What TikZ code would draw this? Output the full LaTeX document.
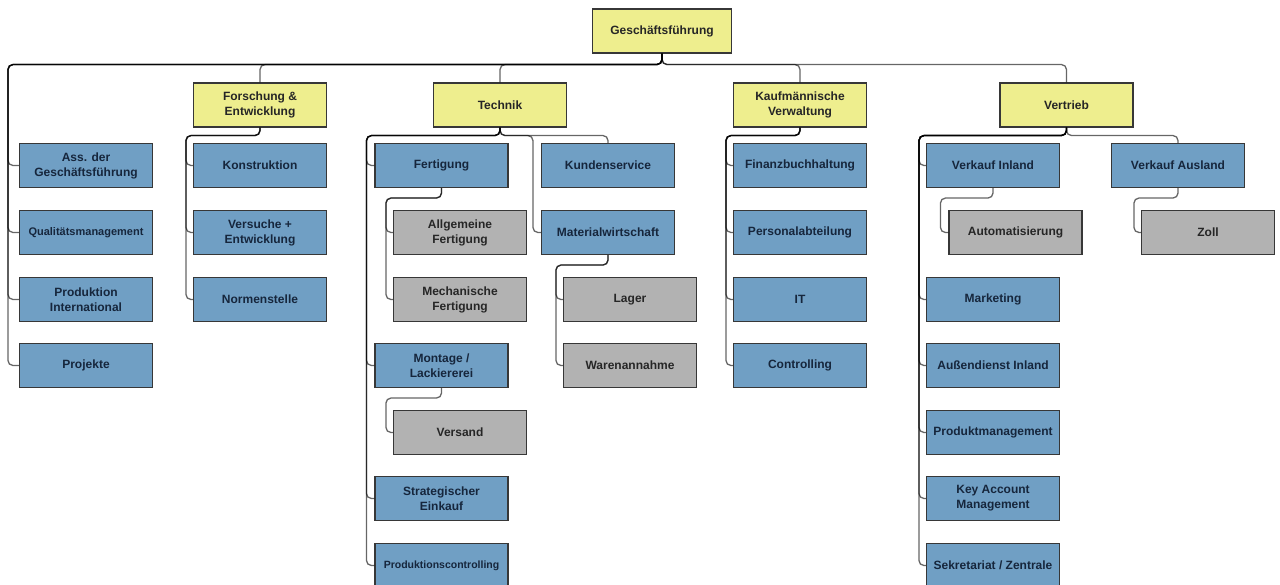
\documentclass[tikz,border=0pt]{standalone}
\usepackage{fontspec}
\setmainfont{Liberation Sans}
\usepackage{xcolor}
\usepackage{tikz}
\definecolor{headfill}{RGB}{238,238,142}
\definecolor{deptfill}{RGB}{112,159,196}
\definecolor{subfill}{RGB}{178,178,178}
\definecolor{boxline}{RGB}{55,55,55}
\definecolor{navytext}{RGB}{22,38,60}

\begin{document}
\begin{tikzpicture}[
  x=1pt, y=-1pt,
  box/.style={draw=boxline, line width=1.1pt, minimum width=133pt, minimum height=44pt, inner sep=2pt, align=center, font=\bfseries\fontsize{12}{15}\selectfont},
  head/.style={box, fill=headfill, text=black!85},
  dept/.style={box, fill=deptfill, text=navytext},
  sub/.style={box, fill=subfill, text=black!85},
  link/.style={draw=black, draw opacity=0.6, line width=1.3pt, rounded corners=5pt}
]
  \useasboundingbox (0,0) rectangle (1280,585);

  % Column x positions
  \def\staffX{86}
  \def\feX{260}
  \def\techX{500}
  \def\fertX{441.5}
  \def\kundX{608}
  \def\fsubX{460}
  \def\msubX{630}
  \def\kvX{800}
  \def\vtX{1066.5}
  \def\viX{993}
  \def\vaX{1178}
  \def\autoX{1015.5}
  \def\zollX{1208}

  % Row y positions
  \def\rA{165.5}
  \def\rB{232.5}
  \def\rC{299.5}
  \def\rD{365.5}
  \def\rE{432.5}
  \def\rF{498.5}
  \def\rG{565.5}

  % Management and divisions
  \node[head, minimum width=139pt] (gf) at (662, 31) {Geschäftsführung};
  \node[head] (fe)   at (\feX, 105)   {Forschung \&\\Entwicklung};
  \node[head] (tech) at (\techX, 105) {Technik};
  \node[head] (kv)   at (\kvX, 105)   {Kaufmännische\\Verwaltung};
  \node[head] (vt)   at (\vtX, 105)   {Vertrieb};

  % Staff positions
  \node[dept] (ass)  at (\staffX, \rA) {Ass. der\\Geschäftsführung};
  \node[dept, font=\bfseries\fontsize{11}{14}\selectfont] (qm) at (\staffX, \rB) {Qualitätsmanagement};
  \node[dept] (pint) at (\staffX, \rC) {Produktion\\International};
  \node[dept] (proj) at (\staffX, \rD) {Projekte};

  % Forschung & Entwicklung
  \node[dept] (kon)  at (\feX, \rA) {Konstruktion};
  \node[dept] (vers) at (\feX, \rB) {Versuche +\\Entwicklung};
  \node[dept] (norm) at (\feX, \rC) {Normenstelle};

  % Technik
  \node[dept] (fert)  at (\fertX, \rA) {Fertigung};
  \node[dept] (kund)  at (\kundX, \rA) {Kundenservice};
  \node[sub]  (allg)  at (\fsubX, \rB) {Allgemeine\\Fertigung};
  \node[dept] (mat)   at (\kundX, \rB) {Materialwirtschaft};
  \node[sub]  (mech)  at (\fsubX, \rC) {Mechanische\\Fertigung};
  \node[sub]  (lager) at (\msubX, \rC) {Lager};
  \node[dept] (mont)  at (\fertX, \rD) {Montage /\\Lackiererei};
  \node[sub]  (waren) at (\msubX, \rD) {Warenannahme};
  \node[sub]  (vsd)   at (\fsubX, \rE) {Versand};
  \node[dept] (strat) at (\fertX, \rF) {Strategischer\\Einkauf};
  \node[dept, font=\bfseries\fontsize{10.5}{13}\selectfont] (pc) at (\fertX, \rG) {Produktionscontrolling};

  % Kaufmaennische Verwaltung
  \node[dept] (fibu)  at (\kvX, \rA) {Finanzbuchhaltung};
  \node[dept] (pers)  at (\kvX, \rB) {Personalabteilung};
  \node[dept] (it)    at (\kvX, \rC) {IT};
  \node[dept] (contr) at (\kvX, \rD) {Controlling};

  % Vertrieb
  \node[dept] (vi)   at (\viX, \rA)   {Verkauf Inland};
  \node[dept] (va)   at (\vaX, \rA)   {Verkauf Ausland};
  \node[sub]  (auto) at (\autoX, \rB) {Automatisierung};
  \node[sub]  (zoll) at (\zollX, \rB) {Zoll};
  \node[dept] (mkt)  at (\viX, \rC)   {Marketing};
  \node[dept] (adi)  at (\viX, \rD)   {Außendienst Inland};
  \node[dept] (pm)   at (\viX, \rE)   {Produktmanagement};
  \node[dept] (kam)  at (\viX, \rF)   {Key Account\\Management};
  \node[dept] (sek)  at (\viX, \rG)   {Sekretariat / Zentrale};

  % Connectors from Geschaeftsfuehrung
  \draw[link] (gf.south) -- ++(0,11) -| ([xshift=-11pt]ass.west) -- (ass.west);
  \draw[link] (gf.south) -- ++(0,11) -| ([xshift=-11pt]qm.west) -- (qm.west);
  \draw[link] (gf.south) -- ++(0,11) -| ([xshift=-11pt]pint.west) -- (pint.west);
  \draw[link] (gf.south) -- ++(0,11) -| ([xshift=-11pt]proj.west) -- (proj.west);
  \draw[link] (gf.south) -- ++(0,11) -| (fe.north);
  \draw[link] (gf.south) -- ++(0,11) -| (tech.north);
  \draw[link] (gf.south) -- ++(0,11) -| (kv.north);
  \draw[link] (gf.south) -- ++(0,11) -| (vt.north);

  % Forschung & Entwicklung
  \draw[link] (fe.south) -- ++(0,8) -| ([xshift=-7pt]kon.west) -- (kon.west);
  \draw[link] (fe.south) -- ++(0,8) -| ([xshift=-7pt]vers.west) -- (vers.west);
  \draw[link] (fe.south) -- ++(0,8) -| ([xshift=-7pt]norm.west) -- (norm.west);

  % Technik
  \draw[link] (tech.south) -- ++(0,8) -| ([xshift=-8pt]fert.west) -- (fert.west);
  \draw[link] (tech.south) -- ++(0,8) -| ([xshift=-8pt]mont.west) -- (mont.west);
  \draw[link] (tech.south) -- ++(0,8) -| ([xshift=-8pt]strat.west) -- (strat.west);
  \draw[link] (tech.south) -- ++(0,8) -| ([xshift=-8pt]pc.west) -- (pc.west);
  \draw[link] (tech.south) -- ++(0,8) -| (kund.north);
  \draw[link] (tech.south) -- ++(0,8) -| ([xshift=-8pt]mat.west) -- (mat.west);
  \draw[link] (fert.south) -- ++(0,10) -| ([xshift=-7pt]allg.west) -- (allg.west);
  \draw[link] (fert.south) -- ++(0,10) -| ([xshift=-7pt]mech.west) -- (mech.west);
  \draw[link] (mat.south) -- ++(0,10) -| ([xshift=-7pt]lager.west) -- (lager.west);
  \draw[link] (mat.south) -- ++(0,10) -| ([xshift=-7pt]waren.west) -- (waren.west);
  \draw[link] (mont.south) -- ++(0,10) -| ([xshift=-7pt]vsd.west) -- (vsd.west);

  % Kaufmaennische Verwaltung
  \draw[link] (kv.south) -- ++(0,8) -| ([xshift=-7pt]fibu.west) -- (fibu.west);
  \draw[link] (kv.south) -- ++(0,8) -| ([xshift=-7pt]pers.west) -- (pers.west);
  \draw[link] (kv.south) -- ++(0,8) -| ([xshift=-7pt]it.west) -- (it.west);
  \draw[link] (kv.south) -- ++(0,8) -| ([xshift=-7pt]contr.west) -- (contr.west);

  % Vertrieb
  \draw[link] (vt.south) -- ++(0,8) -| ([xshift=-7pt]vi.west) -- (vi.west);
  \draw[link] (vt.south) -- ++(0,8) -| ([xshift=-7pt]mkt.west) -- (mkt.west);
  \draw[link] (vt.south) -- ++(0,8) -| ([xshift=-7pt]adi.west) -- (adi.west);
  \draw[link] (vt.south) -- ++(0,8) -| ([xshift=-7pt]pm.west) -- (pm.west);
  \draw[link] (vt.south) -- ++(0,8) -| ([xshift=-7pt]kam.west) -- (kam.west);
  \draw[link] (vt.south) -- ++(0,8) -| ([xshift=-7pt]sek.west) -- (sek.west);
  \draw[link] (vt.south) -- ++(0,8) -| (va.north);
  \draw[link] (vi.south) -- ++(0,10) -| ([xshift=-8pt]auto.west) -- (auto.west);
  \draw[link] (va.south) -- ++(0,10) -| ([xshift=-7pt]zoll.west) -- (zoll.west);

\end{tikzpicture}
\end{document}
